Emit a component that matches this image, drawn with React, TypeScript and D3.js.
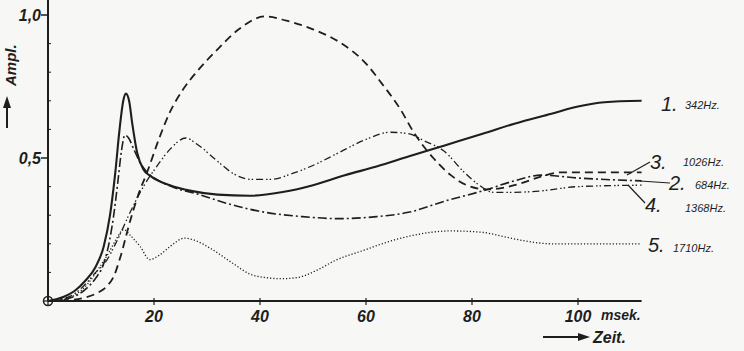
import { useMemo } from 'react';
import * as d3 from 'd3';

type Pt = [number, number];

// Time (msek) vs amplitude
const curve1: Pt[] = [
  [0, 0], [3, 0.015], [5, 0.035], [7, 0.07], [9, 0.12], [10.5, 0.19], [11.7, 0.3], [12.7, 0.45],
  [13.5, 0.6], [14.2, 0.7], [14.7, 0.725], [15.3, 0.7], [15.9, 0.62], [16.8, 0.52], [18, 0.46],
  [19.5, 0.435], [23, 0.405], [27, 0.385], [32, 0.372], [38, 0.368], [44, 0.38], [50, 0.405],
  [56, 0.44], [62, 0.47], [68, 0.505], [75, 0.545], [82, 0.585], [88, 0.62], [95, 0.655],
  [100, 0.68], [105, 0.695], [112, 0.7],
];
const curve2: Pt[] = [
  [0, 0], [4, 0.01], [7, 0.04], [9, 0.08], [10.5, 0.13], [11.6, 0.21], [12.4, 0.3], [13.2, 0.42],
  [13.9, 0.53], [14.5, 0.58], [15.2, 0.57], [16.2, 0.53], [17.5, 0.48], [18.7, 0.45], [21, 0.42],
  [24, 0.395], [28, 0.375], [34, 0.34], [41, 0.31], [48, 0.295], [55, 0.288], [62, 0.295],
  [68, 0.31], [75, 0.35], [82, 0.385], [88, 0.42], [93, 0.44], [100, 0.43], [112, 0.42],
];
const curve3: Pt[] = [
  [0, 0], [4, 0.003], [7, 0.012], [9.5, 0.03], [11, 0.05], [12.5, 0.09], [13.6, 0.15], [15.5, 0.28],
  [17, 0.37], [18.7, 0.45], [21, 0.57], [23, 0.66], [25.5, 0.74], [28, 0.8], [32, 0.88], [36, 0.95],
  [41, 0.995], [45, 0.98], [50, 0.95], [55, 0.905], [60, 0.83], [63, 0.76], [66.5, 0.67], [69, 0.59],
  [72.7, 0.5], [76, 0.44], [79, 0.405], [83, 0.39], [89, 0.41], [93, 0.435], [97, 0.45], [112, 0.45],
];
const curve4: Pt[] = [
  [0, 0], [4, 0.015], [6.6, 0.05], [9, 0.1], [11, 0.14], [13, 0.21], [15.5, 0.31], [18, 0.4],
  [20.5, 0.47], [23, 0.53], [26, 0.57], [28, 0.55], [31.9, 0.49], [35, 0.445], [38.5, 0.425],
  [42, 0.425], [46, 0.445], [50.7, 0.48], [55, 0.52], [60, 0.565], [64.5, 0.59], [68, 0.585],
  [71, 0.56], [75, 0.52], [78, 0.46], [81, 0.41], [84, 0.38], [88, 0.38], [93, 0.385], [100, 0.4],
  [112, 0.405],
];
const curve5: Pt[] = [
  [0, 0], [3, 0.005], [5, 0.02], [7.5, 0.06], [9.8, 0.12], [11.5, 0.17], [13, 0.22], [14.3, 0.25],
  [15.5, 0.23], [17.4, 0.19], [19.2, 0.145], [21, 0.16], [23, 0.19], [25.8, 0.22], [28, 0.21],
  [31, 0.18], [35, 0.13], [38, 0.095], [41, 0.082], [44, 0.078], [47, 0.082], [51, 0.11], [54, 0.14],
  [60, 0.18], [63, 0.2], [69, 0.23], [76, 0.245], [82, 0.24], [86, 0.225], [90, 0.21], [95, 0.2],
  [112, 0.2],
];

const xTicks = [20, 40, 60, 80, 100];
const yMajor = [0.5, 1.0];
const yMinor = [0.1, 0.2, 0.3, 0.4, 0.6, 0.7, 0.8, 0.9];

const series = [
  { num: '1.', hz: '342Hz.', data: curve1, dash: 'none', w: 2.1 },
  { num: '2.', hz: '684Hz.', data: curve2, dash: '9,3,2,3', w: 1.6 },
  { num: '3.', hz: '1026Hz.', data: curve3, dash: '8,5', w: 1.8 },
  { num: '4.', hz: '1368Hz.', data: curve4, dash: '7,3,1.5,2,1.5,3', w: 1.3 },
  { num: '5.', hz: '1710Hz.', data: curve5, dash: '1.2,2', w: 1.3 },
];

const INK = '#1e1e1e';
const FONT = '"Liberation Sans", Arial, sans-serif';

export default function App() {
  const width = 744;
  const height = 351;

  const x = useMemo(() => d3.scaleLinear().domain([0, 100]).range([48, 578]), []);
  const y = useMemo(() => d3.scaleLinear().domain([0, 1]).range([301, 15]), []);
  const line = d3.line<Pt>().x((d) => x(d[0])).y((d) => y(d[1])).curve(d3.curveMonotoneX);

  const x0 = x(0);
  const y0 = y(0);
  const xEnd = x(112);

  // label positions beside curve ends
  const numPos: Record<string, [number, number]> = {
    '1.': [661, 111], '3.': [650, 169], '2.': [669, 190], '4.': [645, 212], '5.': [648, 252],
  };
  const hzPos: Record<string, [number, number]> = {
    '1.': [685, 109], '3.': [683, 166], '2.': [695, 189], '4.': [685, 212], '5.': [673, 252],
  };

  return (
    <svg width={width} height={height} style={{ position: 'fixed', left: 0, top: 0, background: '#f7f7f5' }}>
      <rect width={width} height={height} fill="#f7f7f5" />

      {/* axes */}
      <line x1={x0} y1={y0} x2={xEnd} y2={y0} stroke={INK} strokeWidth={2.2} />
      <line x1={x0} y1={y0} x2={x0} y2={0} stroke={INK} strokeWidth={2} />
      {yMajor.map((v) => (
        <line key={v} x1={x0 - 7} x2={x0} y1={y(v)} y2={y(v)} stroke={INK} strokeWidth={1.5} />
      ))}
      {yMinor.map((v) => (
        <line key={v} x1={x0} x2={x0 + 3} y1={y(v)} y2={y(v)} stroke={INK} strokeWidth={1} />
      ))}
      {xTicks.map((t) => (
        <line key={t} x1={x(t)} x2={x(t)} y1={y0 - 3} y2={y0 + 4} stroke={INK} strokeWidth={1.2} />
      ))}
      <circle cx={x0} cy={y0} r={4.5} fill="none" stroke={INK} strokeWidth={1.5} />
      <line x1={x0 - 4.5} x2={x0 + 4.5} y1={y0} y2={y0} stroke={INK} strokeWidth={1.2} />
      <line x1={x0} x2={x0} y1={y0 - 4.5} y2={y0 + 4.5} stroke={INK} strokeWidth={1.2} />

      {/* tick labels */}
      <g fontFamily={FONT} fontWeight="bold" fontStyle="italic" fill={INK}>
        {xTicks.map((t) => (
          <text key={t} x={x(t)} y={322} fontSize={16} textAnchor="middle">{t}</text>
        ))}
        {yMajor.map((v) => (
          <text key={v} x={41} y={y(v) + 6} fontSize={16} textAnchor="end">
            {d3.format('.1f')(v).replace('.', ',')}
          </text>
        ))}
      </g>

      {/* axis titles */}
      <g fontFamily={FONT} fontStyle="italic" fontWeight="bold" fill={INK}>
        <text x={601} y={320} fontSize={14}>msek.</text>
        <text x={593} y={343} fontSize={16}>Zeit.</text>
        <text transform="translate(16,86) rotate(-90)" fontSize={15}>Ampl.</text>
      </g>
      <line x1={543} x2={580} y1={337} y2={337} stroke={INK} strokeWidth={2} />
      <path d="M578,333 L590,337 L578,341 Z" fill={INK} />
      <line x1={7} x2={7} y1={128} y2={106} stroke={INK} strokeWidth={2} />
      <path d="M3,108 L7,96 L11,108 Z" fill={INK} />

      {/* curves */}
      {series.map((s) => (
        <path
          key={s.num}
          d={line(s.data) ?? ''}
          fill="none"
          stroke={INK}
          strokeWidth={s.w}
          strokeDasharray={s.dash}
          strokeLinecap="butt"
        />
      ))}

      {/* leader lines */}
      <line x1={627} y1={175} x2={650} y2={162} stroke={INK} strokeWidth={1.2} />
      <line x1={640} y1={181} x2={670} y2={183} stroke={INK} strokeWidth={1.2} />
      <line x1={628} y1={185} x2={645} y2={203} stroke={INK} strokeWidth={1.2} />

      {/* curve labels */}
      <g fontFamily={FONT} fontStyle="italic" fill={INK}>
        {series.map((s) => (
          <g key={s.num}>
            <text x={numPos[s.num][0]} y={numPos[s.num][1]} fontSize={20}>{s.num}</text>
            <text x={hzPos[s.num][0]} y={hzPos[s.num][1]} fontSize={11}>{s.hz}</text>
          </g>
        ))}
      </g>
    </svg>
  );
}
